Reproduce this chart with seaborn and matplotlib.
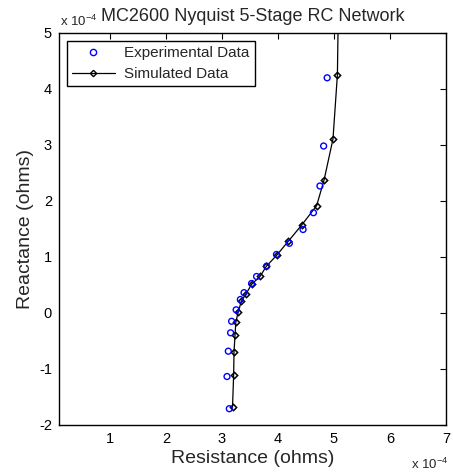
import matplotlib
matplotlib.use("Agg")
import matplotlib.pyplot as plt
from matplotlib.lines import Line2D
import seaborn as sns
import pandas as pd

# Impedance values in units of 1e-4 ohms
exp_resistance = [3.131, 3.090, 3.113, 3.154, 3.172, 3.253, 3.328, 3.394, 3.529,
                  3.618, 3.797, 3.973, 4.203, 4.448, 4.633, 4.749, 4.815, 4.878]
exp_reactance = [-1.709, -1.134, -0.682, -0.354, -0.148, 0.057, 0.241, 0.363, 0.527,
                 0.652, 0.836, 1.045, 1.245, 1.491, 1.791, 2.268, 2.982, 4.200]

sim_resistance = [3.188, 3.208, 3.215, 3.233, 3.247, 3.289, 3.346, 3.430, 3.530,
                  3.679, 3.794, 3.978, 4.183, 4.421, 4.690, 4.823, 4.982, 5.061, 5.100]
sim_reactance = [-1.684, -1.112, -0.700, -0.393, -0.166, 0.014, 0.211, 0.343, 0.514,
                 0.652, 0.836, 1.032, 1.280, 1.568, 1.916, 2.375, 3.107, 4.255, 7.000]

x_ticks = [1, 2, 3, 4, 5, 6, 7]
y_ticks = [-2, -1, 0, 1, 2, 3, 4, 5]

exp_df = pd.DataFrame({"R": exp_resistance, "X": exp_reactance})
sim_df = pd.DataFrame({"R": sim_resistance, "X": sim_reactance})

sns.set_style("white")
plt.rcParams["font.family"] = ["Liberation Sans", "DejaVu Sans"]
plt.rcParams["mathtext.fontset"] = "custom"
plt.rcParams["mathtext.rm"] = "Liberation Sans"
plt.rcParams["mathtext.default"] = "regular"

W, H = 453, 475
fig = plt.figure(figsize=(W / 100, H / 100), dpi=100)
ax = fig.add_axes([59 / W, 1 - 425 / H, (446 - 59) / W, (425 - 33) / H])

sns.lineplot(data=sim_df, x="R", y="X", sort=False, estimator=None, ax=ax,
             color="black", linewidth=0.9, marker="D", markersize=3.2,
             markerfacecolor="none", markeredgecolor="black", markeredgewidth=1.1,
             zorder=2)
sns.scatterplot(data=exp_df, x="R", y="X", ax=ax, marker="o", s=18,
                facecolors="none", edgecolor="#0000ff", linewidth=1.0, zorder=3)

ax.set_xlim(0.09, 7)
ax.set_ylim(-2, 5)
ax.set_xticks(x_ticks)
ax.set_yticks(y_ticks)
ax.set_xticklabels([str(t) for t in x_ticks])
ax.set_yticklabels([str(t) for t in y_ticks])
ax.tick_params(direction="in", length=4, width=0.8, top=True, right=True,
               labelsize=10.5, pad=5, colors="black")
for sp in ax.spines.values():
    sp.set_visible(True)
    sp.set_color("black")
    sp.set_linewidth(1.0)

ax.set_xlabel("Resistance (ohms)", fontsize=14, labelpad=3)
ax.set_ylabel("Reactance (ohms)", fontsize=14, labelpad=4)
ax.set_title("MC2600 Nyquist 5-Stage RC Network", fontsize=13, pad=8.5)

# exponent labels for both axes
ax.text(1 / W, 1 + 7 / 392, r"x 10$^{-4}$", transform=ax.transAxes, fontsize=9.5,
        ha="left", va="baseline")
ax.text(1 + 2 / 387, -44 / 392, r"x 10$^{-4}$", transform=ax.transAxes, fontsize=9.5,
        ha="right", va="baseline")

handles = [
    Line2D([], [], linestyle="none", marker="o", markersize=4.5,
           markerfacecolor="none", markeredgecolor="#0000ff", markeredgewidth=1.0),
    Line2D([], [], color="black", linewidth=0.9, marker="D", markersize=3.2,
           markerfacecolor="none", markeredgecolor="black"),
]
leg = ax.legend(handles, ["Experimental Data", "Simulated Data"], loc="upper left",
                fontsize=11, frameon=True, fancybox=False, framealpha=1,
                edgecolor="black", borderaxespad=0.5, handlelength=2.8,
                handletextpad=0.6, borderpad=0.35, labelspacing=0.45)
leg.get_frame().set_linewidth(1.0)

fig.savefig("out.png", dpi=100)
